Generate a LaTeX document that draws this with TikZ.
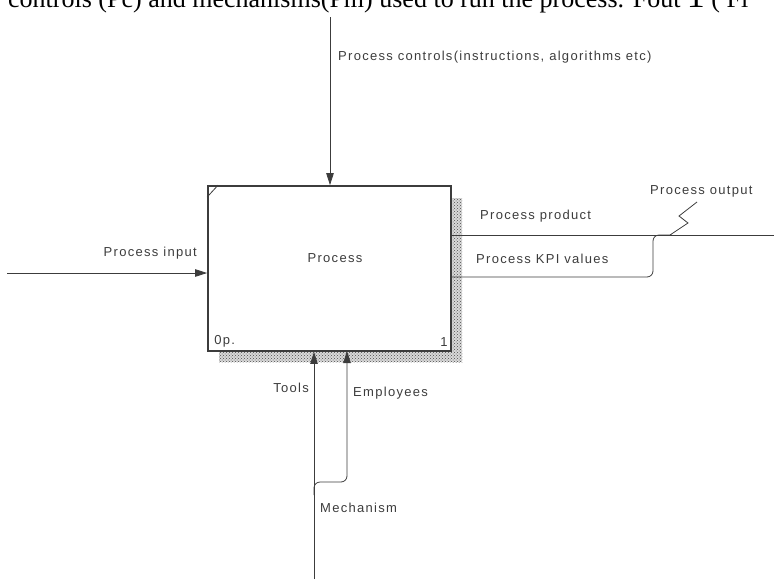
\documentclass[tikz,border=0pt]{standalone}
\usepackage{fontspec}
\setmainfont{Liberation Sans}
\newfontfamily\pageserif{Liberation Serif}
\usepackage{xcolor}
\usetikzlibrary{arrows.meta,positioning,calc,patterns}
\definecolor{idefline}{HTML}{3C3C3C}
\definecolor{ideftext}{HTML}{3C3C3C}

\begin{document}
\begin{tikzpicture}[
    x=1pt, y=-1pt,
    actbox/.style={rectangle, draw=idefline, line width=1.8pt, fill=white, minimum width=243pt, minimum height=165pt, inner sep=0pt},
    arrow/.style={-{Triangle[length=12pt,width=7.5pt]}, draw=idefline, line width=0.8pt},
    flow/.style={draw=idefline, line width=0.8pt},
    lbl/.style={text=ideftext, font=\fontsize{13}{15}\selectfont\addfontfeature{LetterSpace=10}, inner sep=0pt},
    shade/.style={fill=gray!30, postaction={pattern=crosshatch dots, pattern color=gray!60!black}}
]
    \clip (0,0) rectangle (774,579);

    % Page text cut off at the top
    \node[anchor=base west, inner sep=0pt, font=\pageserif\fontsize{26}{28}\selectfont] (pagetxt) at (8,7)
        {controls (Pc) and mechanisms(Pm) used to run the process. Fout {\fontsize{36}{36}\selectfont 1} ( Fi};

    % Shadow of the activity box
    \fill[shade] (451,198) rectangle (462,362);
    \fill[shade] (219,351) rectangle (462,362);

    % Activity box
    \node[actbox] (proc) at (329.5,268.5) {};
    \node[lbl] (proctxt) at (335,258) {Process};
    \node[lbl, anchor=south west] (pnum) at ($(proc.south west)+(7,-5)$) {0p.};
    \node[lbl, anchor=south east] (pid) at ($(proc.south east)+(-4,-5)$) {1};
    \draw[idefline, line width=0.8pt] ($(proc.north west)+(0,12)$) -- ($(proc.north west)+(11,0)$);

    % Control
    \coordinate (ctlT) at (330,17);
    \draw[arrow] (ctlT) -- (ctlT |- proc.north);
    \node[lbl, anchor=west] (ctltxt) at (338,57) {Process controls(instructions, algorithms etc)};

    % Input
    \coordinate (inL) at (7,273);
    \draw[arrow] (inL) -- (inL -| proc.west);
    \node[lbl, anchor=east] (intxt) at (197,253) {Process input};

    % Outputs
    \coordinate (outR) at (774,235);
    \coordinate (kpiL) at (451,277);
    \draw[flow] (proc.east |- outR) -- (outR);
    \draw[flow, rounded corners=6pt] (kpiL) -- (653,277) -- (653,235) -- (672,235);
    \node[lbl, anchor=west] (prodtxt) at (480,216) {Process product};
    \node[lbl, anchor=west] (kpitxt) at (476,259) {Process KPI values};
    \node[lbl, anchor=west] (outtxt) at (650,191) {Process output};
    \draw[flow] (670,235) -- (688,223) -- (679,216) -- (697,202);

    % Mechanisms
    \coordinate (mechB) at (314,579);
    \draw[arrow] (mechB) -- (mechB |- proc.south);
    \draw[arrow, rounded corners=6pt] (314,495) -- (314,482) -- (347,482) -- (347,351);
    \node[lbl, anchor=east] (tooltxt) at (309,388) {Tools};
    \node[lbl, anchor=west] (emptxt) at (353,393) {Employees};
    \node[lbl, anchor=west] (mechtxt) at (320,508) {Mechanism};
\end{tikzpicture}
\end{document}
